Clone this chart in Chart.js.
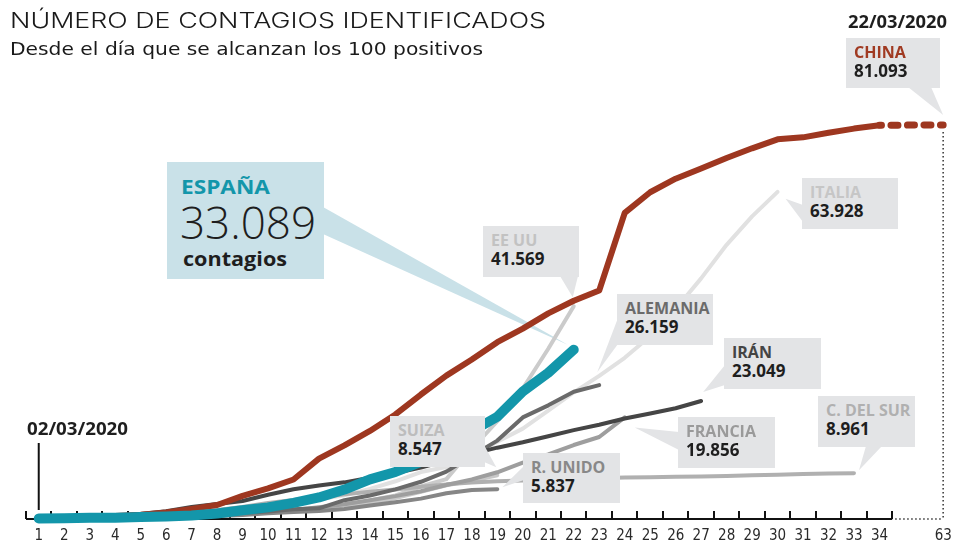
<!DOCTYPE html>
<html><head><meta charset="utf-8">
<script src="https://cdn.jsdelivr.net/npm/chart.js@4.4.1/dist/chart.umd.min.js"></script>
<style>
body{margin:0;background:#fff;}
#wrap{position:relative;width:955px;height:545px;overflow:hidden;font-family:'Open Sans',sans-serif;color:#1e1e1e;}
canvas{position:absolute;left:0;top:0;}
.t{position:absolute;white-space:nowrap;}
.box{position:absolute;background:#e3e4e6;}
.box .n{position:absolute;left:8px;top:4px;font-weight:700;font-size:16px;line-height:20px;white-space:nowrap;}
.box .v{position:absolute;left:8px;top:23px;font-weight:700;font-size:17px;line-height:20px;color:#1e1e1e;white-space:nowrap;}
</style></head><body>
<div id="wrap">
<canvas id="c" width="955" height="545"></canvas>
<div class="t fit" data-w="536" style="left:10px;top:7px;font-family:'Inter','Open Sans',sans-serif;font-size:21.5px;line-height:26px;font-weight:300;color:#1a1a1a;">NÚMERO DE CONTAGIOS IDENTIFICADOS</div>
<div class="t fit" data-w="473" style="left:10px;top:38px;font-family:'DejaVu Sans',sans-serif;font-size:18px;line-height:22px;color:#1a1a1a;">Desde el día que se alcanzan los 100 positivos</div>
<div class="t fit" data-w="101" style="left:27px;top:418px;font-size:17px;line-height:22px;font-weight:700;">02/03/2020</div>
<div class="t fit" data-w="99" style="left:848px;top:11px;font-size:17px;line-height:22px;font-weight:700;">22/03/2020</div>
<div class="box" style="left:167px;top:162px;width:157px;height:117px;background:#c9e1e8;">
  <div class="t fit" data-w="89" style="left:14px;top:12px;font-size:20px;line-height:26px;font-weight:700;color:#1396aa;">ESPAÑA</div>
  <div class="t" style="left:13px;top:33px;font-size:44px;line-height:54px;font-weight:300;">33.089</div>
  <div class="t fit" data-w="104" style="left:16px;top:84px;font-size:20px;line-height:26px;font-weight:700;">contagios</div>
</div>
<div id="boxes"></div>
</div>
<script>
// ---- DATA ----
const dayLabels = ['1','2','3','4','5','6','7','8','9','10','11','12','13','14','15','16','17','18','19','20','21','22','23','24','25','26','27','28','29','30','31','32','33','34'];
const lastDayLabel = '63';
const china = [198,291,440,571,830,1287,1975,2744,4515,5974,7711,11791,14380,17205,20438,24324,28018,31161,34546,37198,40171,42638,44653,59804,63851,66492,68500,70548,72436,74185,74576,75465,76288,76936];
const chinaDay63 = 77000;
const spain = [120,165,222,259,400,500,673,1073,1695,2277,3146,4209,5753,7753,9191,11178,13716,17147,19980,24926,28572,33089];
const italy = [155,229,322,453,655,888,1128,1694,2036,2502,3089,3858,4636,5883,7375,9172,10149,12462,15113,17660,21157,24747,27980,31506,35713,41035,47021,53578,59138,63928];
const us = [100,124,158,221,319,435,541,704,994,1301,1630,2183,2770,3613,4596,6344,7786,13680,19101,25493,33276,41569];
const germany = [130,159,196,262,482,670,799,1040,1176,1457,1908,2078,3675,4585,5795,7272,9257,12327,15320,19848,22213,24873,26159];
const iran = [139,245,388,593,978,1501,2336,2922,3513,4747,5823,6566,7161,8042,9000,10075,11364,12729,13938,14991,16169,17361,18407,19644,20610,21638,23049];
const korea = [104,204,433,602,833,977,1261,1766,2337,3150,3736,4212,4812,5328,5766,6284,6767,7134,7382,7513,7755,7869,7979,8086,8162,8236,8320,8413,8565,8652,8799,8897,8961];
const france = [100,130,191,204,285,377,653,949,1126,1209,1784,2281,2876,3661,4469,5423,6633,7730,9134,10995,12612,14459,16018,19856];
const uk = [116,164,207,273,321,382,456,590,798,1140,1391,1543,1950,2626,3269,3983,5018,5683,5837];
const swiss = [114,214,268,337,374,491,652,858,1125,1359,1600,2200,2700,3028,4075,5294,6575,7474,8547];
const calloutNames = ['CHINA','EE UU','ITALIA','ALEMANIA','IRÁN','C. DEL SUR','FRANCIA','R. UNIDO','SUIZA'];
const calloutTotals = ['81.093','41.569','63.928','26.159','23.049','8.961','19.856','5.837','8.547'];

// ---- LAYOUT / STYLE ----
const BREAK_POS = 36.5; // compressed position of day 63
const toPts = arr => arr.map((v, i) => ({x: i + 1, y: v}));
const styles = [
  {data: spain, color:'#1396aa', w:10},
  {data: china, color:'#9e3720', w:6},
  {data: iran, color:'#454545', w:4},
  {data: germany, color:'#6a6a6a', w:4},
  {data: uk, color:'#868686', w:4},
  {data: france, color:'#9e9e9e', w:4},
  {data: korea, color:'#b0b0b0', w:4},
  {data: swiss, color:'#c8c8c8', w:4},
  {data: us, color:'#cbcbcb', w:4},
  {data: italy, color:'#e1e1e1', w:4}
];
const datasets = styles.map(s => ({
  data: toPts(s.data), borderColor: s.color, borderWidth: s.w, pointRadius: 0,
  borderCapStyle: 'round', borderJoinStyle: 'round', tension: 0, clip: false, fill: false
}));
datasets.splice(2, 0, {
  data: [{x: china.length, y: china[china.length-1]}, {x: BREAK_POS, y: chinaDay63}],
  borderColor: '#9e3720', borderWidth: 7, pointRadius: 0, borderCapStyle: 'round',
  borderDash: [7, 9.5], borderDashOffset: 5, clip: false, tension: 0
});

const callouts = [
  {series: null, color:'#a03a22', box:[846,38,94,50], base:[[908,87],[931,87]], off:[0,-10]},
  {series: us, color:'#c2c2c2', box:[483,226,96,51], base:[[560,276],[578,276]], off:[-1,-9]},
  {series: italy, color:'#c6c6c6', box:[802,178,96,51], base:[[803,205],[803,222]], off:[8,7]},
  {series: germany, color:'#6b6b6b', box:[617,294,96,51], base:[[618,318],[618,344]], off:[-2,-13]},
  {series: iran, color:'#444', box:[724,338,97,51], base:[[725,365],[725,385]], off:[2,-9]},
  {series: korea, color:'#b0b0b0', box:[818,396,97,51], base:[[866,446],[882,446]], off:[5,-3]},
  {series: france, color:'#9a9a9a', box:[678,417,97,51], base:[[679,432],[679,450]], off:[10,10]},
  {series: uk, color:'#888', box:[523,453,97,50], base:[[524,466],[524,480]], off:[5,-2]},
  {series: swiss, color:'#bdbdbd', box:[390,416,95,51], base:[[484,445],[484,462]], off:[-1,-8]}
];
const boxesEl = document.getElementById('boxes');
callouts.forEach((c, i) => {
  const d = document.createElement('div');
  d.className = 'box';
  d.style.cssText = `left:${c.box[0]}px;top:${c.box[1]}px;width:${c.box[2]}px;height:${c.box[3]}px;`;
  d.innerHTML = `<div class="n" style="color:${c.color}">${calloutNames[i]}</div><div class="v">${calloutTotals[i]}</div>`;
  boxesEl.appendChild(d);
});
document.querySelectorAll('.fit').forEach(el => {
  const w = el.getBoundingClientRect().width;
  el.style.transformOrigin = 'left center';
  el.style.transform = `scaleX(${(+el.dataset.w / w).toFixed(4)})`;
});

const decor = {
  id: 'decor',
  beforeDatasetsDraw(chart) {
    const {ctx} = chart, xs = chart.scales.x, ys = chart.scales.y;
    const y0 = ys.getPixelForValue(0);
    ctx.save();
    const sx = xs.getPixelForValue(spain.length), sy = ys.getPixelForValue(spain[spain.length-1]);
    ctx.fillStyle = '#c9e1e8';
    ctx.beginPath(); ctx.moveTo(323, 207); ctx.lineTo(323, 234); ctx.lineTo(sx - 6, sy - 5); ctx.closePath(); ctx.fill();
    ctx.strokeStyle = '#111'; ctx.lineWidth = 2;
    ctx.beginPath(); ctx.moveTo(xs.getPixelForValue(0.5), y0); ctx.lineTo(xs.getPixelForValue(34.5), y0); ctx.stroke();
    ctx.setLineDash([1.5, 2.5]); ctx.lineWidth = 1.5; ctx.strokeStyle = '#333';
    const xb = xs.getPixelForValue(BREAK_POS);
    ctx.beginPath(); ctx.moveTo(xs.getPixelForValue(34.5) + 3, y0); ctx.lineTo(xb, y0);
    ctx.moveTo(xb, ys.getPixelForValue(chinaDay63) + 7); ctx.lineTo(xb, y0); ctx.stroke();
    ctx.setLineDash([]);
    const x1 = xs.getPixelForValue(1);
    ctx.strokeStyle = '#111'; ctx.lineWidth = 2;
    ctx.beginPath(); ctx.moveTo(x1, y0 - 76); ctx.lineTo(x1, y0 - 9); ctx.stroke();
    ctx.restore();
  },
  afterDatasetsDraw(chart) {
    const {ctx} = chart, xs = chart.scales.x, ys = chart.scales.y;
    ctx.save();
    ctx.fillStyle = '#e3e4e6';
    callouts.forEach(c => {
      let tx, ty;
      if (c.series) { tx = xs.getPixelForValue(c.series.length); ty = ys.getPixelForValue(c.series[c.series.length-1]); }
      else { tx = xs.getPixelForValue(BREAK_POS); ty = ys.getPixelForValue(chinaDay63); }
      ctx.beginPath(); ctx.moveTo(c.base[0][0], c.base[0][1]); ctx.lineTo(c.base[1][0], c.base[1][1]);
      ctx.lineTo(tx + c.off[0], ty + c.off[1]); ctx.closePath(); ctx.fill();
    });
    ctx.restore();
  }
};

const tickVals = [];
for (let i = 0; i <= dayLabels.length; i++) tickVals.push(i + 0.5);
tickVals.push(BREAK_POS - 0.5);

new Chart(document.getElementById('c'), {
  type: 'line',
  data: {datasets},
  options: {
    responsive: false, animation: false, devicePixelRatio: 1,
    layout: {padding: {left: 26, right: 0, top: 84, bottom: 0}},
    plugins: {legend: {display: false}, tooltip: {enabled: false}},
    scales: {
      x: {
        type: 'linear', min: 0.5, max: 36.77,
        afterBuildTicks: s => { s.ticks = tickVals.map(v => ({value: v})); },
        afterFit: s => { s.height = 26; },
        border: {display: false},
        grid: {drawOnChartArea: false, drawTicks: true, tickLength: -8, lineWidth: 2,
          color: c => (c.tick && c.tick.value === BREAK_POS - 0.5) ? 'rgba(0,0,0,0)' : '#111'},
        ticks: {
          autoSkip: false, maxRotation: 0, padding: 16, labelOffset: 12.8, color: '#2a2a2a',
          font: {family: "'Liberation Sans Narrow','DejaVu Sans Condensed',sans-serif", size: 15},
          callback: (v, i) => i < dayLabels.length ? dayLabels[i] : (i === dayLabels.length + 1 ? lastDayLabel : '')
        }
      },
      y: {type: 'linear', min: 0, max: 85000, display: false}
    }
  },
  plugins: [decor]
});
</script>
</body></html>
